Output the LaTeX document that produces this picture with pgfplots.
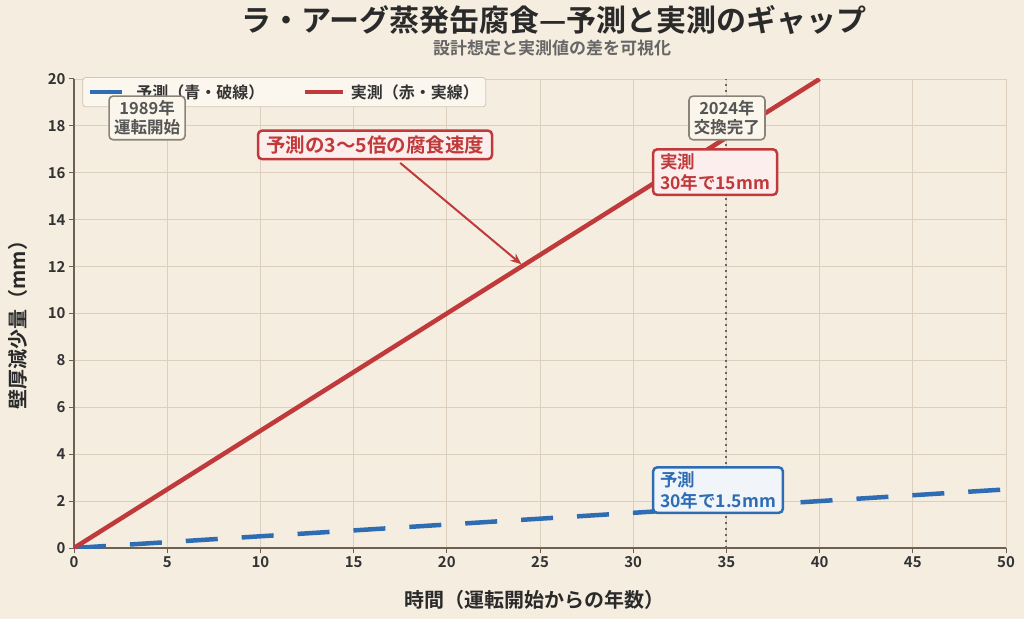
\documentclass[border=0pt]{standalone}
\usepackage{fontspec}
\setmainfont{Noto Sans CJK JP}[BoldFont={Noto Sans CJK JP Bold}]
\usepackage{pgfplots}
\pgfplotsset{compat=1.18}
\usetikzlibrary{arrows.meta}
\definecolor{bg}{HTML}{F5EDE0}
\definecolor{gridc}{HTML}{DCCFBD}
\definecolor{spine}{HTML}{6E6152}
\definecolor{tickc}{HTML}{333333}
\definecolor{titlec}{HTML}{2A2A2A}
\definecolor{subc}{HTML}{666666}
\definecolor{redc}{HTML}{C0393B}
\definecolor{bluec}{HTML}{2E6DB4}
\definecolor{legbg}{HTML}{FBF6EE}
\definecolor{legbd}{HTML}{D2C6B4}
\definecolor{annbg}{HTML}{FBF6EC}
\definecolor{grayb}{HTML}{8A8378}
\definecolor{grayt}{HTML}{555555}
\definecolor{redbg}{HTML}{FCEEEC}
\definecolor{bluebg}{HTML}{F1F5FA}
\definecolor{dotc}{HTML}{666666}
\begin{document}
\begin{tikzpicture}[x=1pt,y=1pt]
\fill[bg] (0,0) rectangle (1024,619);
\begin{axis}[
  at={(74pt,71pt)}, anchor=south west,
  scale only axis, width=932pt, height=469pt,
  xmin=0, xmax=50, ymin=0, ymax=20,
  xtick={0,5,...,50}, ytick={0,2,...,20},
  axis lines=left,
  axis line style={-, draw=spine, line width=1.6pt},
  tick align=outside, major tick length=5pt,
  tick style={draw=spine, line width=1pt},
  grid=major, grid style={draw=gridc, line width=0.9pt},
  ticklabel style={font=\bfseries\fontsize{15}{18}\selectfont, text=tickc},
  /pgf/number format/assume math mode=true,
  legend columns=2,
  legend cell align=left,
  legend style={at={(0.009,1.004)}, anchor=north west, draw=legbd, fill=legbg,
    rounded corners=3pt, line width=0.8pt,
    font=\bfseries\fontsize{16}{19}\selectfont, text=tickc,
    inner xsep=5pt, inner ysep=5pt,
    /tikz/every odd column/.append style={column sep=4pt},
    /tikz/every even column/.append style={column sep=36pt}},
  legend image code/.code={\draw[#1] (0pt,0pt) -- (38pt,0pt);},
]
\addplot[draw=dotc, line width=2pt, dash pattern=on 2pt off 4pt, forget plot] coordinates {(35,0) (35,20)};
\addplot[draw=bluec, line width=4.5pt, dash pattern=on 32pt off 24pt] coordinates {(0,0) (50,2.5)};
\addlegendentry{予測（青・破線）}
\addplot[draw=redc, line width=4.5pt] coordinates {(0,0) (40,20)};
\addlegendentry{実測（赤・実線）}
\coordinate (a1989) at (axis cs:3.92,18.34);
\coordinate (a2024) at (axis cs:35.03,18.34);
\coordinate (amain) at (axis cs:16.15,17.19);
\coordinate (ared) at (axis cs:34.39,16.03);
\coordinate (ablue) at (axis cs:34.55,2.47);
\coordinate (arrS) at (axis cs:17.5,16.42);
\coordinate (arrE) at (axis cs:24.0,12.1);
\end{axis}
% annotations
\draw[-{Stealth[length=11pt,width=9pt]}, draw=redc, line width=2pt] (arrS) -- (arrE);
\node[fill=annbg, draw=grayb, line width=1.6pt, rounded corners=4pt, text=grayt,
  font=\bfseries\fontsize{16.5}{19}\selectfont, align=center, inner xsep=5pt, inner ysep=4.5pt] at (a1989) {1989年\\運転開始};
\node[fill=annbg, draw=grayb, line width=1.6pt, rounded corners=4pt, text=grayt,
  font=\bfseries\fontsize{16.5}{19}\selectfont, align=center, inner xsep=5pt, inner ysep=4.5pt] at (a2024) {2024年\\交換完了};
\node[fill=redbg, draw=redc, line width=2.5pt, rounded corners=4pt, text=redc,
  font=\bfseries\fontsize{19.5}{23}\selectfont, inner xsep=8pt, inner ysep=5pt] at (amain) {予測の3〜5倍の腐食速度};
\node[fill=redbg, draw=redc, line width=2.5pt, rounded corners=4pt, text=redc,
  font=\bfseries\fontsize{17.5}{21}\selectfont, align=left, inner xsep=7pt, inner ysep=4pt] at (ared) {実測\\30年で15mm};
\node[fill=bluebg, draw=bluec, line width=2.5pt, rounded corners=4pt, text=bluec,
  font=\bfseries\fontsize{17.5}{21}\selectfont, align=left, inner xsep=7pt, inner ysep=4pt] at (ablue) {予測\\30年で1.5mm};
% titles and labels
\node[font=\bfseries\fontsize{30}{36}\selectfont, text=titlec] at (554,599) {ラ・アーグ蒸発缶腐食—予測と実測のギャップ};
\node[font=\bfseries\fontsize{17}{20}\selectfont, text=subc] at (552,571) {設計想定と実測値の差を可視化};
\node[font=\bfseries\fontsize{20}{24}\selectfont, text=titlec] at (534,19) {時間（運転開始からの年数）};
\node[font=\bfseries\fontsize{20}{24}\selectfont, text=titlec, rotate=90] at (18,299) {壁厚減少量（mm）};
\pgfresetboundingbox
\path (0,0) rectangle (1024,619);
\end{tikzpicture}
\end{document}
